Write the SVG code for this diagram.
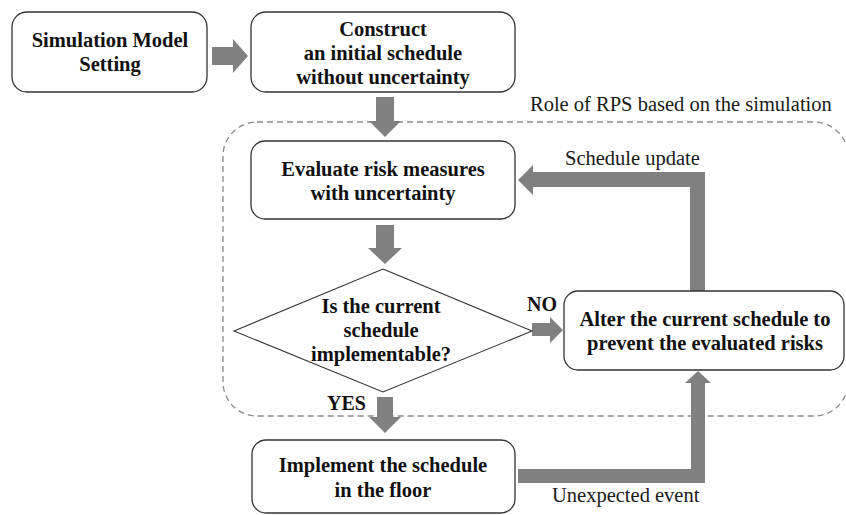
<svg xmlns="http://www.w3.org/2000/svg" width="846" height="515" viewBox="0 0 846 515">
  <style>
    .box { fill: #ffffff; stroke: #333333; stroke-width: 1.3; }
    .dia { fill: #ffffff; stroke: #333333; stroke-width: 1.1; }
    .arr { fill: #808080; stroke: none; }
    .dash { fill: none; stroke: #8a8a8a; stroke-width: 1.3; stroke-dasharray: 6 4; }
    .b { font-family: "Liberation Serif", "Times New Roman", serif; font-weight: bold; font-size: 20.5px; fill: #111111; text-anchor: middle; }
    .lb { font-family: "Liberation Serif", "Times New Roman", serif; font-weight: bold; font-size: 20px; fill: #111111; }
    .r { font-family: "Liberation Serif", "Times New Roman", serif; font-size: 20.5px; fill: #1a1a1a; }
  </style>
  <rect width="846" height="515" fill="#ffffff"/>

  <g id="rps-region">
    <rect class="dash" x="223" y="122" width="625" height="294" rx="34" ry="34"/>
    <text class="r" x="530" y="111">Role of RPS based on the simulation</text>
  </g>

  <g id="connectors">
    <polygon class="arr" points="212,47 233,47 233,39 248,56 233,73 233,65 212,65"/>
    <polygon class="arr" points="376,97 394,97 394,121 401,121 385,137 369,121 376,121"/>
    <polygon class="arr" points="376,225 394,225 394,248 402,248 385,264 368,248 376,248"/>
    <polygon class="arr" points="532,323 550,323 550,317 563,330 550,343 550,336 532,336"/>
    <polygon class="arr" points="377,397 393,397 393,417 401,417 385,433 369,417 377,417"/>
    <polygon class="arr" points="705,291 705,172 533,172 533,165 518,180 533,195 533,187 690,187 690,291"/>
    <polygon class="arr" points="518,469 691,469 691,383 685,383 698,371 711,383 705,383 705,483 518,483"/>
    <text class="lb" x="527" y="311">NO</text>
    <text class="lb" x="327" y="410">YES</text>
    <text class="r" x="565" y="165">Schedule update</text>
    <text class="r" x="552" y="502">Unexpected event</text>
  </g>

  <g id="sim-model">
    <rect class="box" x="12" y="12" width="195" height="80" rx="15" ry="15"/>
    <text class="b" x="110" y="47">Simulation Model</text>
    <text class="b" x="110" y="71">Setting</text>
  </g>

  <g id="construct">
    <rect class="box" x="251" y="12" width="264" height="80" rx="15" ry="15"/>
    <text class="b" x="383" y="36">Construct</text>
    <text class="b" x="383" y="60">an initial schedule</text>
    <text class="b" x="383" y="84">without uncertainty</text>
  </g>

  <g id="evaluate">
    <rect class="box" x="251" y="141" width="264" height="78" rx="14" ry="14"/>
    <text class="b" x="383" y="176">Evaluate risk measures</text>
    <text class="b" x="383" y="200">with uncertainty</text>
  </g>

  <g id="decision">
    <polygon class="dia" points="383,269 532,331 383,392 234,331"/>
    <text class="b" x="381" y="313">Is the current</text>
    <text class="b" x="381" y="337">schedule</text>
    <text class="b" x="381" y="361">implementable?</text>
  </g>

  <g id="alter">
    <rect class="box" x="564" y="291" width="280" height="79" rx="14" ry="14"/>
    <text class="b" x="705" y="326">Alter the current schedule to</text>
    <text class="b" x="705" y="350">prevent the evaluated risks</text>
  </g>

  <g id="implement">
    <rect class="box" x="252" y="440" width="263" height="73" rx="14" ry="14"/>
    <text class="b" x="383" y="472">Implement the schedule</text>
    <text class="b" x="383" y="497">in the floor</text>
  </g>
</svg>
